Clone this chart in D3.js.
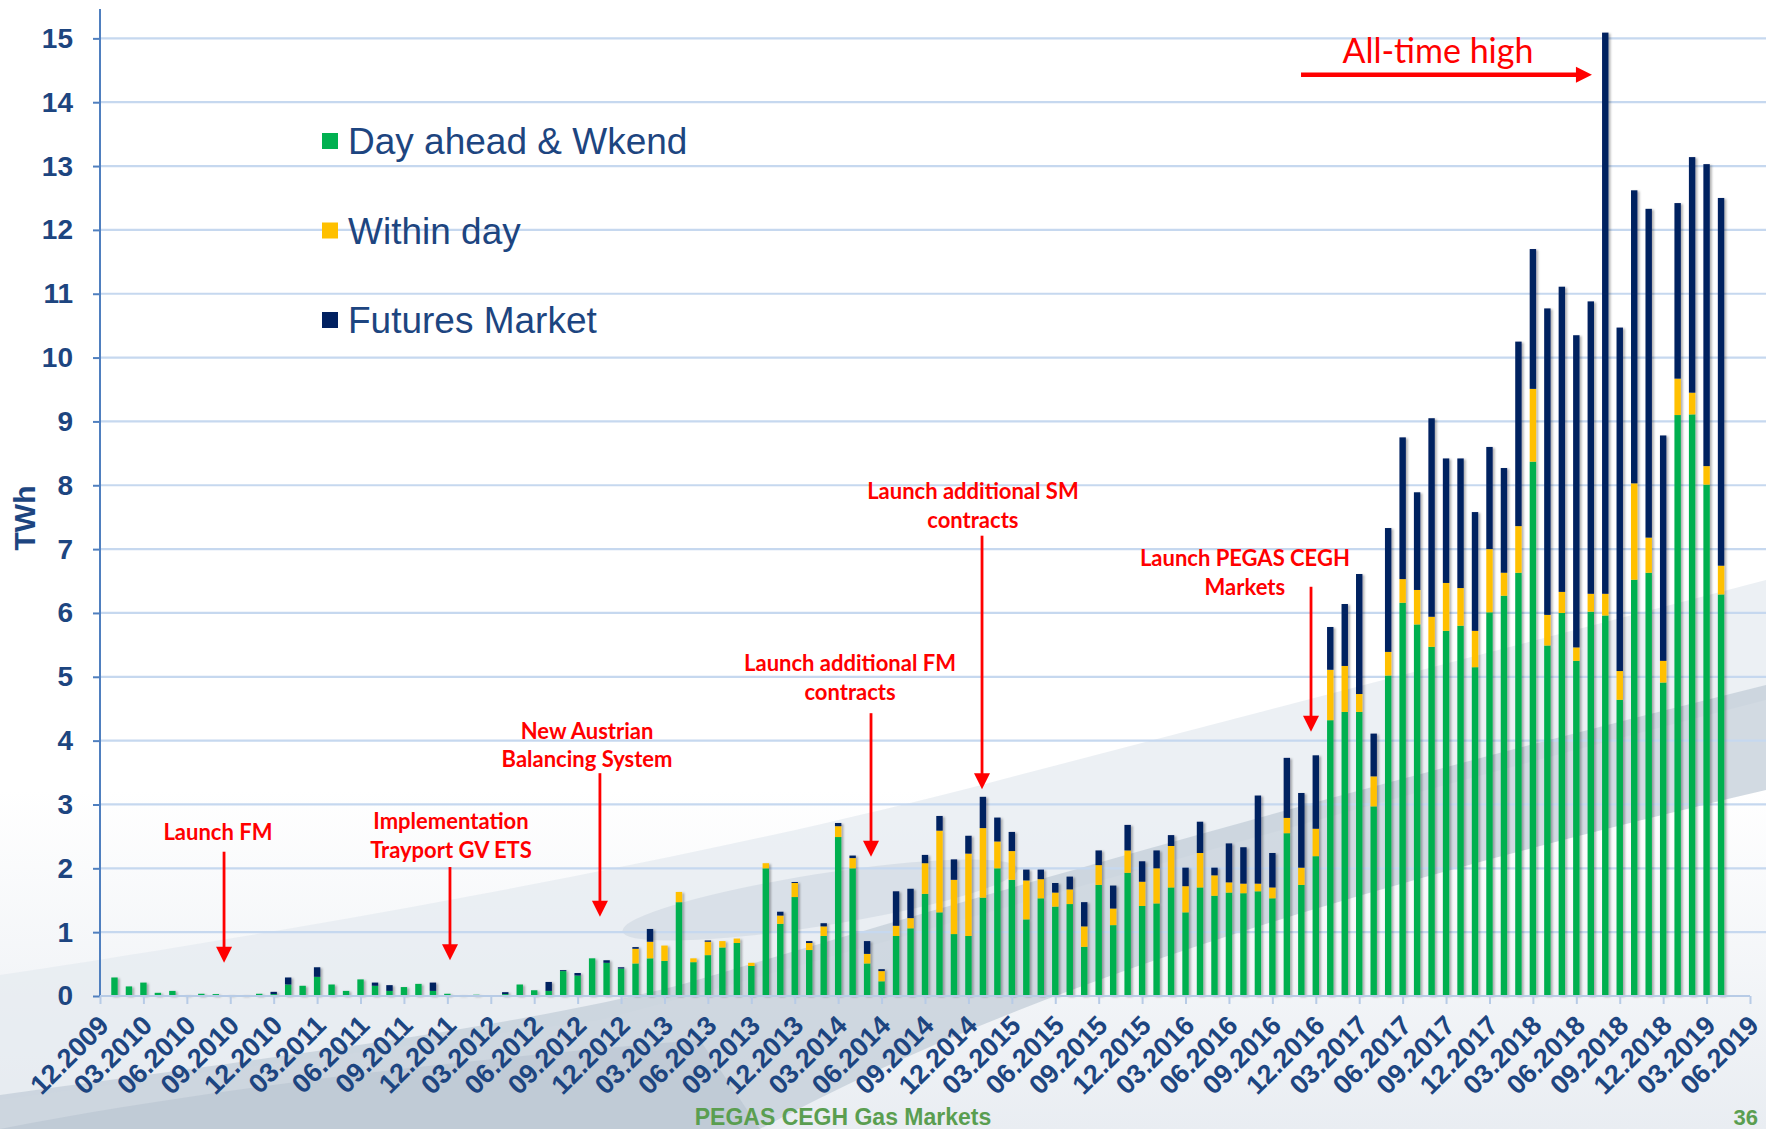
<!DOCTYPE html>
<html><head><meta charset="utf-8">
<script src="https://cdnjs.cloudflare.com/ajax/libs/d3/7.8.5/d3.min.js"></script>
<style>html,body{margin:0;padding:0;background:#fff;overflow:hidden}</style>
</head><body><svg id="chart" width="1766" height="1129"></svg>
<script>
// ---------- DATA ----------
const tickLabels = ["12.2009","03.2010","06.2010","09.2010","12.2010","03.2011","06.2011","09.2011","12.2011",
  "03.2012","06.2012","09.2012","12.2012","03.2013","06.2013","09.2013","12.2013","03.2014","06.2014","09.2014",
  "12.2014","03.2015","06.2015","09.2015","12.2015","03.2016","06.2016","09.2016","12.2016","03.2017","06.2017",
  "09.2017","12.2017","03.2018","06.2018","09.2018","12.2018","03.2019","06.2019"];

// monthly categories 12.2009 ... 06.2019
const months = [];
for (let k = 0; k < 115; k++) {
  const m = (11 + k) % 12 + 1, yr = 2009 + Math.floor((11 + k) / 12);
  months.push(String(m).padStart(2, "0") + "." + yr);
}

// TWh, index 0 = 12.2009
const dayAhead = [0,
  0.29,0.15,0.21,0.05,0.08,0.015,0.035,0.03,0.015,0.015,0.035,0.03,
  0.18,0.16,0.30,0.18,0.08,0.26,0.16,0.08,0.14,0.19,0.08,0.035,
  0.01,0.02,0,0.03,0.18,0.09,0.08,0.39,0.32,0.59,0.52,0.43,
  0.51,0.59,0.55,1.47,0.53,0.64,0.76,0.83,0.47,2.0,1.13,1.55,
  0.72,0.94,2.49,2.0,0.51,0.23,0.94,1.06,1.60,1.31,0.97,0.94,
  1.54,2.0,1.82,1.20,1.53,1.40,1.44,0.77,1.74,1.11,1.93,1.41,
  1.45,1.70,1.31,1.70,1.57,1.62,1.61,1.64,1.53,2.55,1.74,2.19,
  4.32,4.45,4.45,2.97,5.02,6.16,5.82,5.47,5.72,5.80,5.15,6.01,
  6.27,6.63,8.37,5.49,6.00,5.25,6.02,5.96,4.64,6.52,6.63,4.91,
  9.10,9.11,8.01,6.29,0,0];
const withinDay = [0,
  0,0,0,0,0,0,0,0,0,0,0,0,
  0,0,0,0,0,0,0,0,0,0,0,0,
  0,0,0,0,0,0,0,0,0,0,0,0,
  0.23,0.26,0.24,0.16,0.06,0.21,0.10,0.07,0.05,0.08,0.13,0.22,
  0.11,0.15,0.17,0.16,0.15,0.16,0.16,0.16,0.48,1.28,0.85,1.29,
  1.09,0.42,0.45,0.61,0.30,0.22,0.23,0.32,0.31,0.26,0.35,0.38,
  0.55,0.65,0.41,0.54,0.32,0.16,0.15,0.12,0.17,0.24,0.27,0.43,
  0.79,0.72,0.28,0.47,0.37,0.37,0.54,0.47,0.75,0.59,0.57,0.99,
  0.36,0.73,1.14,0.48,0.33,0.21,0.28,0.34,0.45,1.51,0.55,0.34,
  0.57,0.34,0.29,0.45,0,0];
const futures = [0,
  0,0,0,0,0,0,0,0,0,0,0,0.035,
  0.11,0,0.15,0,0,0,0.05,0.09,0,0,0.13,0,
  0,0,0,0.03,0,0,0.14,0.015,0.04,0,0.04,0.02,
  0.026,0.20,0,0,0,0.02,0,0,0,0,0.06,0.015,
  0.03,0.05,0.05,0.04,0.20,0.03,0.54,0.46,0.13,0.23,0.32,0.28,
  0.49,0.375,0.30,0.17,0.15,0.15,0.20,0.38,0.23,0.36,0.40,0.32,
  0.28,0.17,0.29,0.49,0.12,0.61,0.57,1.38,0.54,0.94,1.17,1.15,
  0.67,0.97,1.88,0.67,1.94,2.22,1.53,3.11,1.95,2.03,1.86,1.60,
  1.64,2.89,2.19,4.80,4.78,4.89,4.58,8.79,5.38,4.59,5.15,3.53,
  2.75,3.69,4.73,5.76,0,0];

const seriesKeys = ["dayAhead","withinDay","futures"];
const seriesNames = ["Day ahead & Wkend","Within day","Futures Market"];
const seriesColors = ["#00B050","#FFC000","#002060"];
const yTicks = [0,1,2,3,4,5,6,7,8,9,10,11,12,13,14,15];

// annotations: text lines, text centre (category index), baselines (TWh), arrow (index, top, tip in TWh)
const annotations = [
  {lines:["Launch FM"], cx:8.15, by:[2.44], ax:8.57, top:2.26, tip:0.52},
  {lines:["Implementation","Trayport GV ETS"], cx:24.25, by:[2.62,2.16], ax:24.18, top:2.02, tip:0.56},
  {lines:["New Austrian","Balancing System"], cx:33.65, by:[4.03,3.59], ax:34.54, top:3.49, tip:1.24},
  {lines:["Launch additional FM","contracts"], cx:51.82, by:[5.09,4.64], ax:53.27, top:4.43, tip:2.18},
  {lines:["Launch additional SM","contracts"], cx:60.31, by:[7.79,7.33], ax:60.94, top:7.21, tip:3.24},
  {lines:["Launch PEGAS CEGH","Markets"], cx:79.1, by:[6.74,6.28], ax:83.67, top:6.41, tip:4.14}
];
const highNote = {text:"All-time high", cx:92.44, by:14.62, y:14.43, from:82.98, to:103.08};

// ---------- CHART ----------
const W = 1766, H = 1129;
const svg = d3.select("#chart");
const x = d3.scalePoint().domain(months).range([100, 1750]);
const step = x.step();
const xi = i => x(months[0]) + step * i;
const y = d3.scaleLinear().domain([0, 15.46]).range([996, 9]);
const blue = "#1d4580";

const defs = svg.append("defs");
const f = defs.append("filter").attr("id","sh").attr("x","-50%").attr("y","-5%").attr("width","200%").attr("height","110%");
f.append("feDropShadow").attr("dx",2).attr("dy",1).attr("stdDeviation",1.3).attr("flood-color","#000").attr("flood-opacity",0.3);
const g1 = defs.append("linearGradient").attr("id","bg").attr("x1",0).attr("y1",0).attr("x2",0).attr("y2",1);
g1.append("stop").attr("offset","0").attr("stop-color","#ffffff");
g1.append("stop").attr("offset","0.7").attr("stop-color","#ffffff");
g1.append("stop").attr("offset","1").attr("stop-color","#e9edf2");

// background
svg.append("rect").attr("width",W).attr("height",H).attr("fill","url(#bg)");
const bgG = svg.append("g");
bgG.append("path").attr("d","M0,1129 L0,975 C300,930 700,860 1000,780 L1766,580 L1766,700 C1300,820 900,940 600,1020 L0,1100 Z")
  .attr("fill","#e6ebf0").attr("opacity",0.75);
bgG.append("path").attr("d","M0,1129 L0,1095 C250,1060 500,1030 680,985 C900,920 1300,800 1766,685 L1766,790 C1300,900 1000,1000 760,1129 Z")
  .attr("fill","#c3cdd8").attr("opacity",0.75);
bgG.append("ellipse").attr("cx",820).attr("cy",900).attr("rx",200).attr("ry",26).attr("transform","rotate(-9,820,900)")
  .attr("fill","#d5dce5").attr("opacity",0.8);
bgG.append("path").attr("d","M0,1129 C200,1090 450,1060 700,1040 L760,1129 Z").attr("fill","#b4c0cd").attr("opacity",0.5);

// gridlines
svg.append("g").selectAll("line").data(yTicks.filter(v => v > 0)).join("line")
  .attr("x1",100).attr("x2",W).attr("y1",d => y(d)).attr("y2",d => y(d))
  .attr("stroke","#c6d8ef").attr("stroke-width",2.2);

// bars
const data = months.map((m,i) => ({month:m, dayAhead:dayAhead[i], withinDay:withinDay[i], futures:futures[i]}));
const stacked = d3.stack().keys(seriesKeys)(data);
const bw = 6.4;
const barG = svg.append("g").attr("filter","url(#sh)");
barG.selectAll("g").data(stacked).join("g").attr("fill",(d,i) => seriesColors[i])
  .selectAll("rect").data(d => d.filter(p => p[1] - p[0] > 0)).join("rect")
  .attr("x",d => x(d.data.month) - bw/2).attr("width",bw)
  .attr("y",d => y(d[1])).attr("height",d => y(d[0]) - y(d[1]));

// y axis
const yAxis = d3.axisLeft(y).tickValues(yTicks).tickSize(7).tickPadding(20).tickFormat(d3.format("d"));
const yg = svg.append("g").attr("transform","translate(100,0)").call(yAxis);
yg.select(".domain").remove();
yg.append("line").attr("x1",0).attr("x2",0).attr("y1",9).attr("y2",996).attr("stroke","#4f7fbf").attr("stroke-width",2);
yg.selectAll(".tick line").attr("stroke","#4f7fbf").attr("stroke-width",2);
yg.selectAll(".tick text").attr("fill",blue).style("font","bold 28px 'Liberation Sans', Arial, sans-serif");

// x axis
const xAxis = d3.axisBottom(x).tickValues(tickLabels).tickSize(8).tickFormat(d => d);
const xg = svg.append("g").attr("transform","translate(0,996)").call(xAxis);
xg.select(".domain").attr("stroke","#b7cbe6").attr("stroke-width",2).attr("d","M100,0H1750");
xg.selectAll(".tick line").attr("stroke","#b7cbe6").attr("stroke-width",2);
xg.selectAll(".tick text").attr("fill",blue)
  .style("font","bold 27px 'Liberation Sans', Arial, sans-serif")
  .attr("text-anchor","end").attr("dy",0).attr("y",0)
  .attr("transform","translate(10,31) rotate(-45)");

// y title
svg.append("text").attr("transform","translate(35,518) rotate(-90)").attr("text-anchor","middle")
  .attr("fill",blue).style("font","bold 30px 'Liberation Sans', Arial, sans-serif").text("TWh");

// legend
const lg = svg.append("g");
seriesNames.forEach((n,i) => {
  const cy = 141 + i * 89.5;
  lg.append("rect").attr("x",322).attr("y",cy - 8).attr("width",16).attr("height",16).attr("fill",seriesColors[i]);
  lg.append("text").attr("x",348).attr("y",cy + 13).attr("fill",blue)
    .style("font","37px 'Liberation Sans', Arial, sans-serif").text(n);
});

// annotations
const red = "#FF0000";
const ag = svg.append("g");
annotations.forEach(a => {
  a.lines.forEach((t,k) => {
    ag.append("text").attr("x",xi(a.cx)).attr("y",y(a.by[k])).attr("text-anchor","middle")
      .attr("fill",red).style("font","bold 22px Lato, 'Open Sans', sans-serif").text(t);
  });
  const ax = xi(a.ax), y1 = y(a.top), y2 = y(a.tip);
  ag.append("line").attr("x1",ax).attr("x2",ax).attr("y1",y1).attr("y2",y2 - 14).attr("stroke",red).attr("stroke-width",2.8);
  ag.append("path").attr("d",`M${ax-8},${y2-16} L${ax+8},${y2-16} L${ax},${y2} Z`).attr("fill",red);
});
// all-time high
{
  const yy = y(highNote.y), x1 = xi(highNote.from), x2 = xi(highNote.to);
  ag.append("line").attr("x1",x1).attr("x2",x2 - 14).attr("y1",yy).attr("y2",yy).attr("stroke",red).attr("stroke-width",4.5);
  ag.append("path").attr("d",`M${x2-16},${yy-8} L${x2-16},${yy+8} L${x2},${yy} Z`).attr("fill",red);
  ag.append("text").attr("x",xi(highNote.cx)).attr("y",y(highNote.by)).attr("text-anchor","middle")
    .attr("fill",red).style("font","34px Lato, 'Open Sans', sans-serif").text(highNote.text);
}

// footer
svg.append("text").attr("x",843).attr("y",1125).attr("text-anchor","middle").attr("fill","#5a9e50")
  .style("font","bold 23px 'Liberation Sans', Arial, sans-serif").text("PEGAS CEGH Gas Markets");
svg.append("text").attr("x",1758).attr("y",1125).attr("text-anchor","end").attr("fill","#5a9e50")
  .style("font","bold 22px 'Liberation Sans', Arial, sans-serif").text("36");
</script></body></html>
